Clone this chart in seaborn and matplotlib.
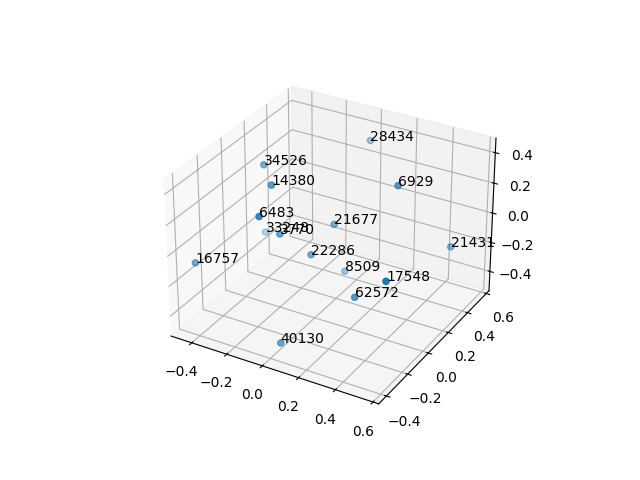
import numpy as np
import seaborn as sns
import matplotlib
matplotlib.use("Agg")
import matplotlib.pyplot as plt

sns.reset_orig()

labels = ["28434", "34526", "6929", "14380", "6483", "21677", "33248", "3770",
          "21431", "22286", "16757", "8509", "17548", "62572", "40130"]
xs = [0.095, -0.22, 0.45, -0.075, -0.00, 0.14, -0.29, -0.02,
      0.63, 0.105, -0.36, 0.145, 0.63, 0.40, 0.105]
ys = [0.36, -0.09, 0.00, -0.25, -0.47, -0.05, 0.02, -0.27,
      0.195, -0.20, -0.47, 0.04, -0.42, -0.30, -0.47]
zs = [0.465, 0.465, 0.495, 0.475, 0.435, 0.175, -0.065, 0.195,
      0.045, 0.06, 0.015, -0.19, 0.22, -0.045, -0.34]

color = sns.color_palette("tab10")[0]

fig = plt.figure(figsize=(6.4, 4.8))
ax = fig.add_subplot(projection="3d")
ax.scatter(xs, ys, zs, color=color)
for x, y, z, name in zip(xs, ys, zs, labels):
    ax.text(x, y, z, name)
ax.set_xlim(-0.52, 0.63)
ax.set_ylim(-0.47, 0.63)
ax.set_zlim(-0.535, 0.495)

fig.savefig("out.png", dpi=100)
